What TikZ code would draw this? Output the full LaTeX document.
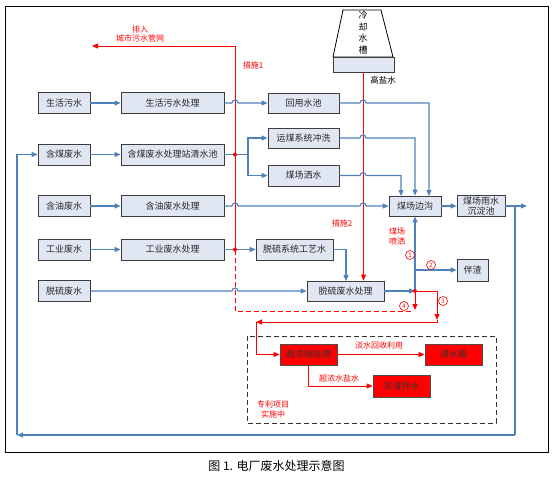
\documentclass[tikz,border=0pt]{standalone}
\usepackage{fontspec}
\setmainfont{Noto Sans CJK SC}
\usetikzlibrary{arrows.meta}
\definecolor{bfill}{RGB}{224,231,242}
\definecolor{bdraw}{RGB}{60,60,60}
\definecolor{bline}{RGB}{79,129,189}
\newcommand{\hopx}[2]{-- ({#1-3},#2) arc[start angle=180,end angle=0,radius=3pt]}
\begin{document}
\begin{tikzpicture}[x=1pt,y=-1pt,
  box/.style={draw=bdraw, fill=bfill, line width=0.8pt, inner sep=0pt, font=\fontsize{9}{10}\selectfont, text=black!85},
  rbox/.style={draw=black!70, fill=red, line width=0.8pt, inner sep=0pt, font=\fontsize{9}{10}\selectfont, text=black!80},
  bl/.style={draw=bline, line width=1.1pt},
  bla/.style={bl, -{Triangle[length=6pt,width=5pt]}},
  rl/.style={draw=red, line width=1pt},
  rla/.style={rl, -{Triangle[length=6pt,width=5pt]}},
  rlab/.style={text=red, font=\fontsize{8}{9.5}\selectfont, inner sep=0pt, align=center},
  num/.style={circle, draw=red, line width=0.6pt, text=red, font=\fontsize{6}{6}\selectfont, inner sep=0pt, minimum size=9pt},
  jdot/.style={circle, fill=red, inner sep=0pt, minimum size=4pt}
]
\useasboundingbox (0,0) rectangle (553,479);
\draw[black, line width=1pt] (5,6) rectangle (548,452);

% left column
\node[box, minimum width=52, minimum height=21] (s1) at (64,103) {生活污水};
\node[box, minimum width=103, minimum height=21] (s2) at (172.5,103) {生活污水处理};
\node[box, minimum width=52, minimum height=21] (c1) at (64,154.5) {含煤废水};
\node[box, minimum width=103, minimum height=21] (c2) at (172.5,154.5) {含煤废水处理站清水池};
\node[box, minimum width=52, minimum height=21] (o1) at (64,206) {含油废水};
\node[box, minimum width=103, minimum height=21] (o2) at (172.5,206) {含油废水处理};
\node[box, minimum width=52, minimum height=21] (g1) at (64,249.5) {工业废水};
\node[box, minimum width=103, minimum height=21] (g2) at (172.5,249.5) {工业废水处理};
\node[box, minimum width=52, minimum height=21] (t1) at (64,291) {脱硫废水};

% middle column
\node[box, minimum width=71, minimum height=20] (hy) at (303.5,103) {回用水池};
\node[box, minimum width=71, minimum height=20] (ym) at (303.5,138) {运煤系统冲洗};
\node[box, minimum width=71, minimum height=21] (cs) at (303.5,175.5) {煤场洒水};
\node[box, minimum width=77, minimum height=21] (tg) at (294.5,249.5) {脱硫系统工艺水};
\node[box, minimum width=77, minimum height=20] (tc) at (345.5,291) {脱硫废水处理};

% right column
\node[box, minimum width=52, minimum height=20] (bg) at (415,206) {煤场边沟};
\node[box, minimum width=48, minimum height=21, align=center, font=\fontsize{9}{9.5}\selectfont] (cd) at (481,206) {煤场雨水\\沉淀池};
\node[box, minimum width=31, minimum height=22] (bz) at (472.5,270) {伴渣};

% cooling tower
\draw[black, line width=0.8pt] (343,10) -- (381,10) -- (393,57) -- (333,57) -- cycle;
\node[box, minimum width=61, minimum height=15] (tw) at (363.5,64.5) {};
\node[font=\fontsize{9}{11.7}\selectfont, align=center, inner sep=0pt] (twt) at (363,32.5) {冷\\却\\水\\槽};
\node[font=\fontsize{8.5}{9}\selectfont, inner sep=0pt] (gy) at (383,80) {高盐水};

% patent dashed box
\draw[black!80, line width=1pt, dash pattern=on 5pt off 3pt] (247,336) rectangle (496,423);
\node[rbox, minimum width=57, minimum height=21] (cn) at (308.5,354.5) {超浓缩处理};
\node[rbox, minimum width=57, minimum height=21] (qs) at (453.5,354.5) {清水箱};
\node[rbox, minimum width=57, minimum height=22] (hz) at (401.5,386) {灰渣拌水};

% coordinates
\coordinate (j1) at (235,154.5);
\coordinate (j2) at (235,249.5);
\coordinate (jt) at (235,46);
\coordinate (jl) at (92,46);
\coordinate (jd) at (235,311);
\coordinate (jj) at (415,291);
\coordinate (jr) at (437,320);
\coordinate (jb) at (256,322);
\coordinate (jk) at (248,154.5);
\coordinate (jo) at (515,206);
\coordinate (jq) at (527,206);
\coordinate (jbr) at (515,435);
\coordinate (jbl) at (17,435);
\coordinate (jm) at (415,270);

% red lines (under blue)
\draw[rla] (tw.south) -- (tw.south |- tc.north);
\draw[rl] (j2) -- (jt);
\draw[rla] (jt) -- (jl);
\draw[rl, dash pattern=on 5pt off 3pt] (j2) -- (jd) -- (413,311);
\draw[rla] (jj) -- (415,310);
\draw[rla] (jj) -| (jr);
\draw[rla] (437,320) -- (437,322) -- (jb);
\draw[rla] (jb) |- (cn.west);
\draw[rla] (cn.east) -- (qs.west);
\draw[rla] (cn.south) |- (hz.west);

% blue lines
\draw[bla] (s1.east) -- (s2.west);
\draw[bla] (c1.east) -- (c2.west);
\draw[bla] (o1.east) -- (o2.west);
\draw[bla] (g1.east) -- (g2.west);
\draw[bla] (s2.east) \hopx{235}{103} -- (hy.west);
\draw[bl] (c2.east) -- (jk);
\draw[bla] (jk) |- (ym.west);
\draw[bla] (jk) |- (cs.west);
\draw[bla] (hy.east) \hopx{363}{103} -- (429,103) -- (429,196);
\draw[bla] (ym.east) \hopx{363}{138} -- (415,138) -- (bg.north);
\draw[bla] (cs.east) \hopx{363}{175.5} -- (401,175.5) -- (401,196);
\draw[bla] (o2.east) \hopx{235}{206} \hopx{363}{206} -- (bg.west);
\draw[bla] (g2.east) -- (tg.west);
\draw[bla] (tg.east) -| (346,281);
\draw[bla] (t1.east) \hopx{235}{291} -- (tc.west);
\draw[bla] (tc.east) -- (jj);
\draw[bla] (jj) -- (bg.south);
\draw[bla] (jm) -- (bz.west);
\draw[bla] (bg.east) -- (cd.west);
\draw[bla] (cd.east) -- (jq);
\draw[bl] (jo) -- (jbr);
\draw[bla] (jbr) -- (jbl);
\draw[bla] (jbl) |- (c1.west);

% junction dots
\node[jdot] at (j1) {};
\node[jdot] at (j2) {};
\node[jdot] at (jj) {};

% labels
\node[rlab] (lb1) at (140,34) {排入\\城市污水管网};
\node[rlab] (lb2) at (253,65) {措施1};
\node[rlab] (lb3) at (342,223) {措施2};
\node[rlab] (lb4) at (397,236.5) {煤场\\喷洒};
\node[rlab] (lb5) at (379,345) {淡水回收利用};
\node[rlab] (lb6) at (339,378) {超浓水盐水};
\node[rlab] (lb7) at (273,409.5) {专利项目\\实施中};
\node[num] (n1) at (410,255) {1};
\node[num] (n2) at (431,265) {2};
\node[num] (n3) at (443,301) {3};
\node[num] (n4) at (404,306) {4};

% caption
\node[font=\fontsize{12}{14}\selectfont, inner sep=0pt] (cap) at (276.5,466) {图 1. 电厂废水处理示意图};
\end{tikzpicture}
\end{document}
